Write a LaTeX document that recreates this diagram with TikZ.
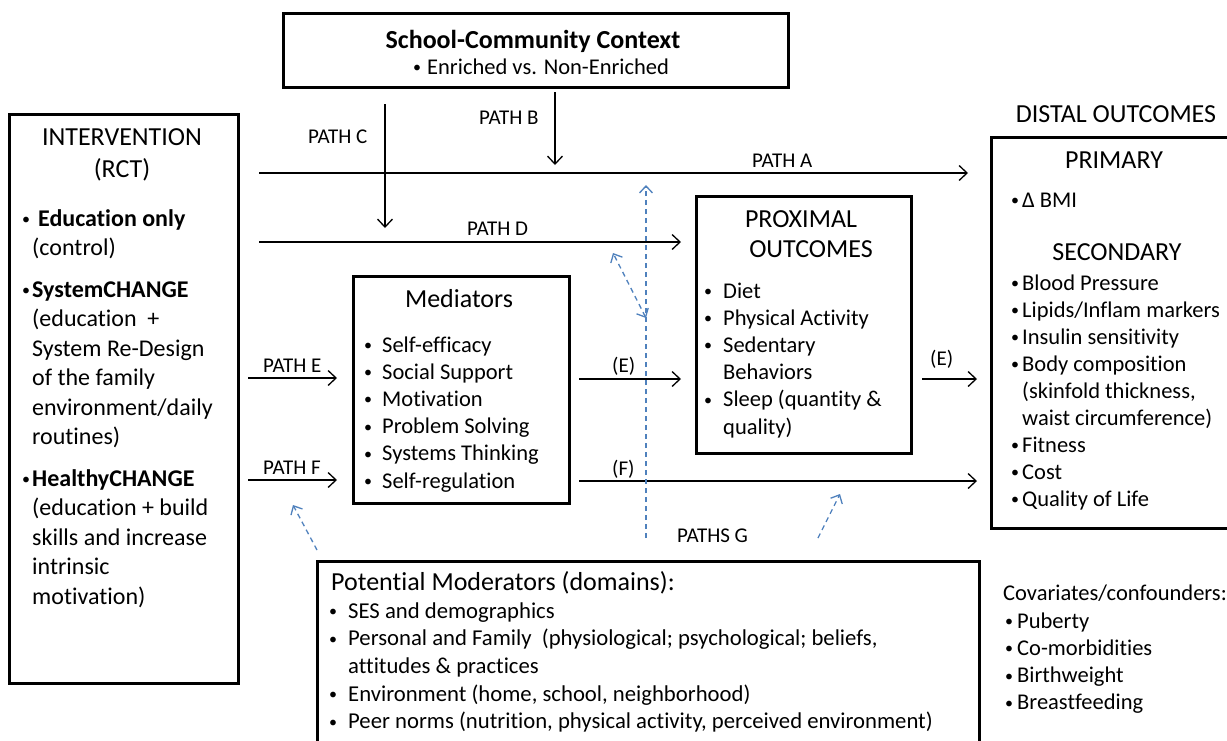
\documentclass[tikz,border=0pt]{standalone}
\usepackage{fontspec}
\setmainfont{Carlito}[Ligatures=NoCommon]
\usetikzlibrary{arrows.meta}
\definecolor{mblue}{RGB}{79,129,189}
\newcommand\bu[1]{\makebox[0pt][c]{\raisebox{1.6pt}{\fontsize{16}{16}\selectfont •}}\hspace*{#1pt}}
\newcommand\fs[2]{\fontsize{#1}{#2}\selectfont}
\begin{document}
\begin{tikzpicture}[x=1pt,y=-1pt,
  box/.style={draw, line width=2.8pt, inner sep=0pt, anchor=north west},
  txt/.style={inner sep=0pt, anchor=base west},
  ctxt/.style={inner sep=0pt, anchor=base},
  arr/.style={line width=1.3pt, >={Straight Barb[length=8pt,width=15pt]}, ->},
  blu/.style={draw=mblue, line width=1.3pt, dash pattern=on 5pt off 4pt, >={Straight Barb[length=7pt,width=13pt]}, ->},
  lab/.style={txt, font=\fs{21}{25}},
  body/.style={txt, font=\fs{22.5}{27.2}},
  ttl/.style={ctxt, font=\fs{26}{31}}
]
\clip (0,0) rectangle (1227,740);
\fill[white] (0,0) rectangle (1227,740);

% boxes
\node[box, minimum width=505pt, minimum height=74pt] (school) at (282,12) {};
\node[box, minimum width=229pt, minimum height=569pt] (interv) at (8,113) {};
\node[box, minimum width=270pt, minimum height=391pt] (distal) at (990,136) {};
\node[box, minimum width=215pt, minimum height=257pt] (prox) at (695,195) {};
\node[box, minimum width=216pt, minimum height=227pt] (med) at (352,275) {};
\node[box, minimum width=662pt, minimum height=220pt] (mod) at (316,560) {};

% school-community
\node[ctxt, font=\bfseries\fs{26}{31}] (schoolT) at (533,48) {School-Community Context};
\node[txt, font=\fs{22.5}{27}] (schoolS) at (417,74) {\bu{10}Enriched vs. Non-Enriched};

% intervention
\node[ttl] (intT1) at (122,145) {INTERVENTION};
\node[ttl] (intT2) at (122,177) {(RCT)};
\node[txt, font=\fs{24}{29.4}] (intL) at (26,226) {\parbox[t]{215pt}{\raggedright
\bu{12}\textbf{Education only}\\
\hspace*{6pt}(control)\\[12.6pt]
\bu{6}\textbf{SystemCHANGE}\\
\hspace*{6pt}(education\ \ +\\
\hspace*{6pt}System Re-Design\\
\hspace*{6pt}of the family\\
\hspace*{6pt}environment/daily\\
\hspace*{6pt}routines)\\[12.6pt]
\bu{6}\textbf{HealthyCHANGE}\\
\hspace*{6pt}(education + build\\
\hspace*{6pt}skills and increase\\
\hspace*{6pt}intrinsic\\
\hspace*{6pt}motivation)}};

% mediators
\node[ttl] (medT) at (459,307) {Mediators};
\node[body] (medL) at (368,352) {\parbox[t]{200pt}{\raggedright
\bu{14}Self-efficacy\\
\bu{14}Social Support\\
\bu{14}Motivation\\
\bu{14}Problem Solving\\
\bu{14}Systems Thinking\\
\bu{14}Self-regulation}};

% proximal
\node[ttl] (proxT1) at (801,227) {PROXIMAL};
\node[ttl] (proxT2) at (811,257) {OUTCOMES};
\node[body] (proxL) at (708,298) {\parbox[t]{200pt}{\raggedright
\bu{15}Diet\\
\bu{15}Physical Activity\\
\bu{15}Sedentary\\
\hspace*{15pt}Behaviors\\
\bu{15}Sleep (quantity \&\\
\hspace*{15pt}quality)}};

% distal
\node[ttl] (distT) at (1116,122) {DISTAL OUTCOMES};
\node[ttl] (prim) at (1114,168) {PRIMARY};
\node[body] (bmi) at (1015,207) {\bu{7}Δ BMI};
\node[ttl] (sec) at (1117,260) {SECONDARY};
\node[txt, font=\fs{22.5}{27}] (distL) at (1015,290) {\parbox[t]{220pt}{\raggedright
\bu{7}Blood Pressure\\
\bu{7}Lipids/Inflam markers\\
\bu{7}Insulin sensitivity\\
\bu{7}Body composition\\
\hspace*{7pt}(skinfold thickness,\\
\hspace*{7pt}waist circumference)\\
\bu{7}Fitness\\
\bu{7}Cost\\
\bu{7}Quality of Life}};

% moderators
\node[txt, font=\fs{26}{31}] (modT) at (331,590) {Potential Moderators (domains):};
\node[txt, font=\fs{22.7}{27.7}] (modL) at (333,618) {\parbox[t]{640pt}{\raggedright
\bu{15}SES and demographics\\
\bu{15}Personal and Family\ \ (physiological; psychological; beliefs,\\
\hspace*{15pt}attitudes \& practices\\
\bu{15}Environment (home, school, neighborhood)\\
\bu{15}Peer norms (nutrition, physical activity, perceived environment)}};

% covariates
\node[body] (covT) at (1003,600) {Covariates/confounders:};
\node[txt, font=\fs{22.5}{27.3}] (covL) at (1009,628) {\parbox[t]{215pt}{\raggedright
\bu{8}Puberty\\
\bu{8}Co-morbidities\\
\bu{8}Birthweight\\
\bu{8}Breastfeeding}};

% path labels
\node[lab] (pA) at (752,167) {PATH A};
\node[lab] (pB) at (479,124) {PATH B};
\node[lab] (pC) at (308,143) {PATH C};
\node[lab] (pD) at (467,235) {PATH D};
\node[lab] (pE) at (263,372) {PATH E};
\node[lab] (pF) at (263,474) {PATH F};
\node[lab] (eM) at (612,372) {(E)};
\node[lab] (eR) at (930,365) {(E)};
\node[lab] (fM) at (612,475) {(F)};
\node[lab] (pG) at (677,542) {PATHS G};

% connector end points
\coordinate (aS) at (259,173); \coordinate (aE) at (968,173);
\coordinate (bS) at (555,92);  \coordinate (bE) at (555,165);
\coordinate (cS) at (385,104); \coordinate (cE) at (385,228);
\coordinate (dS) at (259,242); \coordinate (dE) at (681,242);
\coordinate (eS) at (248,378); \coordinate (eE) at (337,378);
\coordinate (fS) at (248,480); \coordinate (fE) at (337,480);
\coordinate (e2S) at (579,379); \coordinate (e2E) at (681,379);
\coordinate (e3S) at (922,379); \coordinate (e3E) at (977,379);
\coordinate (f2S) at (579,481); \coordinate (f2E) at (977,481);
\coordinate (gS) at (646,538); \coordinate (gE) at (646,185);
\coordinate (hS) at (646,318); \coordinate (hE) at (613,253);
\coordinate (iS) at (818,538); \coordinate (iE) at (840,494);
\coordinate (jS) at (317,550); \coordinate (jE) at (293,505);

% black connectors
\draw[arr] (aS) -- (aE);
\draw[arr] (bS) -- (bE);
\draw[arr] (cS) -- (cE);
\draw[arr] (dS) -- (dE);
\draw[arr] (eS) -- (eE);
\draw[arr] (fS) -- (fE);
\draw[arr] (e2S) -- (e2E);
\draw[arr] (e3S) -- (e3E);
\draw[arr] (f2S) -- (f2E);

% blue dashed moderation arrows
\draw[blu] (gS) -- (gE);
\draw[blu, <->] (hS) -- (hE);
\draw[blu] (iS) -- (iE);
\draw[blu] (jS) -- (jE);
\end{tikzpicture}
\end{document}
